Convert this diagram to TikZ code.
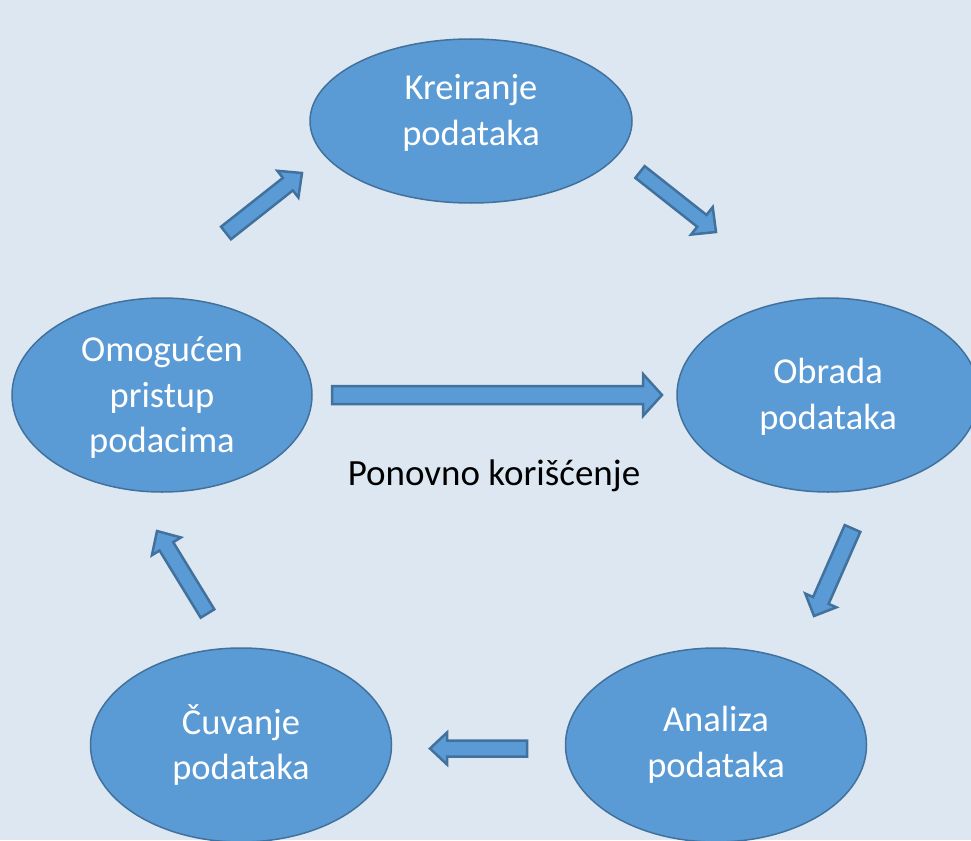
\documentclass[tikz,border=0pt]{standalone}
\usepackage{fontspec}
\setmainfont{Carlito}
\usetikzlibrary{shapes.geometric,calc}
\definecolor{bg}{HTML}{DDE7F1}
\definecolor{fillblue}{HTML}{5B9BD5}
\definecolor{edgeblue}{HTML}{41719C}
\tikzset{
  cyclenode/.style={ellipse, draw=edgeblue, line width=1.5pt, fill=fillblue, text=white,
    inner sep=0pt, align=center, font=\fontsize{36.5}{45.5}\selectfont},
  blockarrow/.style={draw=edgeblue, fill=fillblue, line width=2.5pt, line join=miter},
  plaintext/.style={text=black, font=\fontsize{37}{45}\selectfont},
}
% tail, tip, shaft half width, head half width, head length
\newcommand{\blockarr}[5]{%
  \coordinate (#2-base) at ($(#2)!#5!(#1)$);
  \draw[blockarrow] ($(#1)!#3!90:(#2)$) -- ($(#2-base)!#3!90:(#2)$) -- ($(#2-base)!#4!90:(#2)$)
    -- (#2) -- ($(#2-base)!#4!-90:(#2)$) -- ($(#2-base)!#3!-90:(#2)$) -- ($(#1)!#3!-90:(#2)$) -- cycle;
}
\begin{document}
\begin{tikzpicture}[x=1pt,y=-1pt]
  \useasboundingbox (0,0) rectangle (971,840);
  \clip (0,0) rectangle (971,840);
  \fill[bg] (0,0) rectangle (971,840);

  \node[cyclenode, minimum width=322pt, minimum height=164pt, text depth=22pt] (kre) at (471,121) {Kreiranje\\podataka};
  \node[cyclenode, minimum width=302pt, minimum height=194pt, text depth=2pt] (obr) at (828,395) {Obrada\\podataka};
  \node[cyclenode, minimum width=300pt, minimum height=194pt, text depth=0pt] (omo) at (162,395) {Omogućen\\pristup\\podacima};
  \node[cyclenode, minimum width=301pt, minimum height=194pt] (cuv) at (241,745) {Čuvanje\\podataka};
  \node[cyclenode, minimum width=301pt, minimum height=194pt, text depth=6pt] (ana) at (716,745) {Analiza\\podataka};

  \node[plaintext, anchor=base] (pon) at (494,485) {Ponovno korišćenje};

  \coordinate (a1t) at (226,233);   \coordinate (a1h) at (302,173);
  \coordinate (a2t) at (640,172);   \coordinate (a2h) at (716,232);
  \coordinate (a3t) at (852.5,528.5); \coordinate (a3h) at (814,616);
  \coordinate (a4t) at (207.5,613.5); \coordinate (a4h) at (157,531);
  \coordinate (a5t) at (332,395);   \coordinate (a5h) at (662,395);
  \coordinate (a6t) at (527,748.5); \coordinate (a6h) at (430,748.5);

  \blockarr{a1t}{a1h}{8pt}{17pt}{18pt}
  \blockarr{a2t}{a2h}{7.5pt}{17.5pt}{18pt}
  \blockarr{a3t}{a3h}{8.5pt}{17pt}{17pt}
  \blockarr{a4t}{a4h}{8pt}{17pt}{18pt}
  \blockarr{a5t}{a5h}{9pt}{21pt}{19pt}
  \blockarr{a6t}{a6h}{8pt}{16pt}{17pt}
\end{tikzpicture}
\end{document}
